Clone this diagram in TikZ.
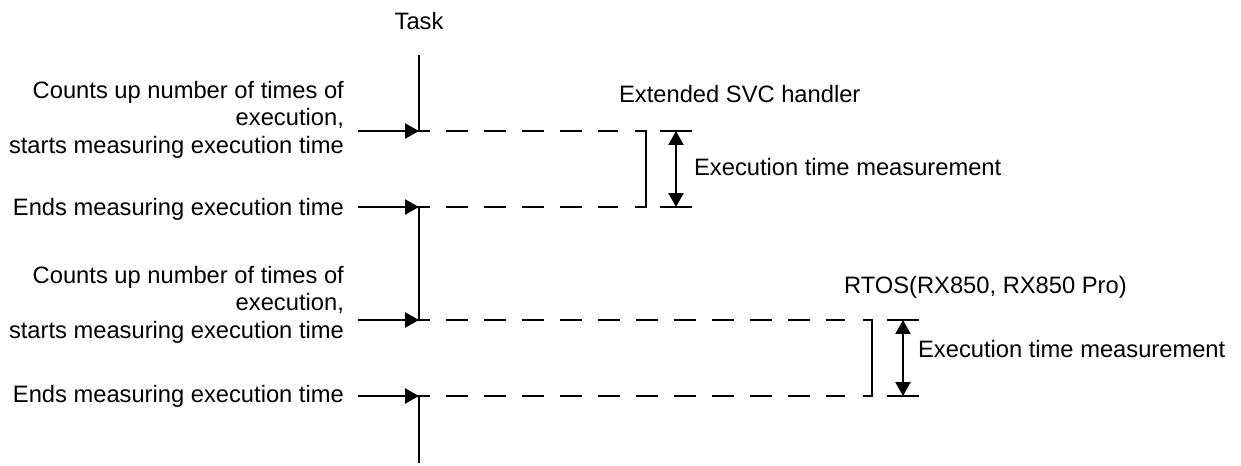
\documentclass[tikz,border=0pt]{standalone}
\usepackage{fontspec}
\setmainfont{Liberation Sans}
\usepackage{tikz}
\usetikzlibrary{arrows.meta}
\newcommand{\lblfont}{\fontsize{13.5}{15.6}\selectfont}

\begin{document}
\begin{tikzpicture}[x=0.02cm, y=-0.02cm, line width=1.3pt,
    every node/.style={font=\lblfont, inner sep=0pt},
    tip/.style={-{Triangle[length=0.28cm, width=0.3cm]}},
    dtip/.style={{Triangle[length=0.28cm, width=0.3cm]}-{Triangle[length=0.28cm, width=0.3cm]}},
    gapline/.style={dash pattern=on 0.44cm off 0.32cm}]
            \useasboundingbox (0,0) rectangle (1241,466);

            \coordinate (T0) at (419,55);
            \coordinate (S1) at (419,131);
            \coordinate (E1) at (419,207);
            \coordinate (S2) at (419,320);
            \coordinate (E2) at (419,396);
            \coordinate (T9) at (419,463);

            \node[anchor=base] (task) at (419,30) {Task};
            \node[anchor=north east, align=right] (cnt1) at (345,80)
                {Counts up number of times of\\ execution,\\ starts measuring execution time};
            \node[anchor=base east] (end1) at (345,215) {Ends measuring execution time};
            \node[anchor=north east, align=right] (cnt2) at (345,265)
                {Counts up number of times of\\ execution,\\ starts measuring execution time};
            \node[anchor=base east] (end2) at (345,402) {Ends measuring execution time};
            \node[anchor=base west] (svc) at (618,103) {Extended SVC handler};
            \node[anchor=base west] (meas1) at (693,175) {Execution time measurement};
            \node[anchor=base west] (rtos) at (843,293) {RTOS(RX850, RX850 Pro)};
            \node[anchor=base west] (meas2) at (917,357) {Execution time measurement};

            \draw (T0) -- (S1);
            \draw (E1) -- (S2);
            \draw (E2) -- (T9);

            \draw[tip] (358,131) -- (S1);
            \draw[tip] (358,207) -- (E1);
            \draw[tip] (358,320) -- (S2);
            \draw[tip] (358,396) -- (E2);

            \draw[gapline] (408,131) -- (618,131);
            \draw[gapline] (408,207) -- (618,207);
            \draw (635,131) -- (646,131) -- (646,207) -- (635,207);
            \draw (660,131) -- (692,131);
            \draw (660,207) -- (692,207);
            \draw[dtip] (676,131) -- (676,207);

            \draw[gapline] (408,320) -- (845,320);
            \draw[gapline] (408,396) -- (845,396);
            \draw (863,320) -- (872,320) -- (872,396) -- (863,396);
            \draw (887,320) -- (919,320);
            \draw (887,396) -- (919,396);
            \draw[dtip] (903,320) -- (903,396);
        \end{tikzpicture}
\end{document}
